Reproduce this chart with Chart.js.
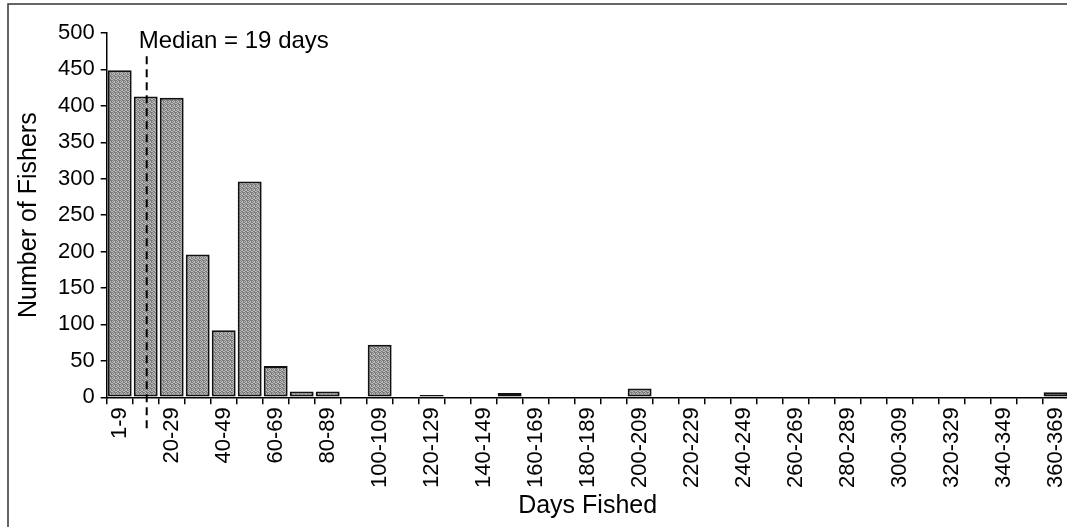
<!DOCTYPE html>
<html>
<head>
<meta charset="utf-8">
<script src="https://cdn.jsdelivr.net/npm/chart.js@4.4.1/dist/chart.umd.min.js"></script>
<style>
  html, body { margin: 0; padding: 0; background: #fff; overflow: hidden; }
  #wrap { position: absolute; left: 0; top: 0; width: 1085px; height: 527px; }
</style>
</head>
<body>
<div id="wrap"><canvas id="chart" width="1085" height="527"></canvas></div>
<script>
// Day ranges (x categories)
const dayRanges = [
  '1-9', '10-19', '20-29', '30-39', '40-49', '50-59', '60-69', '70-79', '80-89', '90-99',
  '100-109', '110-119', '120-129', '130-139', '140-149', '150-159', '160-169', '170-179',
  '180-189', '190-199', '200-209', '210-219', '220-229', '230-239', '240-249', '250-259',
  '260-269', '270-279', '280-289', '290-299', '300-309', '310-319', '320-329', '330-339',
  '340-349', '350-359', '360-369'
];

// Number of fishers per range
const fishers = [
  449, 413, 411, 196, 92, 296, 43, 8, 8, 0,
  72, 0, 3, 1, 1, 6, 1, 1,
  1, 1, 12, 0, 0, 0, 0, 0,
  0, 1, 1, 0, 1, 1, 0, 1,
  0, 0, 7
];

const yTicks = [0, 50, 100, 150, 200, 250, 300, 350, 400, 450, 500];

const medianIndex = 1;      // the 10-19 class holds the median
const medianText = 'Median = 19 days';
const medianTop = 468;      // where the dashed line starts, in fishers

const FONT = 'Liberation Sans, Arial, sans-serif';

// stippled grey fill, like the scanned bars
function stipple() {
  const c = document.createElement('canvas');
  c.width = 4; c.height = 4;
  const g = c.getContext('2d');
  g.fillStyle = '#bcbcbc';
  g.fillRect(0, 0, 4, 4);
  g.fillStyle = '#7c7c7c';
  [[0,0],[2,0],[1,1],[3,2],[0,2],[2,3],[1,3],[3,1],[3,0]].forEach(function (p) {
    g.fillRect(p[0], p[1], 1, 1);
  });
  return g.createPattern(c, 'repeat');
}

const medianPlugin = {
  id: 'median',
  beforeDraw: function (chart) {
    const ctx = chart.ctx;
    ctx.save();
    ctx.strokeStyle = '#333';
    ctx.lineWidth = 1.5;
    ctx.beginPath();
    ctx.moveTo(8, 600);
    ctx.lineTo(8, 4);
    ctx.lineTo(1200, 4);
    ctx.stroke();
    ctx.restore();
  },
  afterDatasetsDraw: function (chart) {
    const ctx = chart.ctx;
    const x = chart.scales.x.getPixelForValue(medianIndex) + 1;
    const yTop = chart.scales.y.getPixelForValue(medianTop);
    const yBottom = chart.chartArea.bottom + 32;
    ctx.save();
    ctx.strokeStyle = '#000';
    ctx.lineWidth = 2;
    ctx.setLineDash([8, 5]);
    ctx.beginPath();
    ctx.moveTo(x, yTop);
    ctx.lineTo(x, yBottom);
    ctx.stroke();
    ctx.setLineDash([]);
    ctx.fillStyle = '#000';
    ctx.font = '24px ' + FONT;
    ctx.textBaseline = 'alphabetic';
    ctx.textAlign = 'left';
    ctx.fillText(medianText, x - 8, chart.chartArea.top + 15);
    ctx.restore();
  }
};

const ctx = document.getElementById('chart');
new Chart(ctx, {
  type: 'bar',
  data: {
    labels: dayRanges,
    datasets: [{
      data: fishers,
      backgroundColor: stipple(),
      borderColor: '#111',
      borderWidth: 2,
      borderSkipped: false,
      barPercentage: 0.92,
      categoryPercentage: 1.0
    }]
  },
  options: {
    responsive: false,
    devicePixelRatio: 1,
    animation: false,
    layout: { padding: { left: 14, top: 33, right: 3, bottom: 6 } },
    plugins: { legend: { display: false }, tooltip: { enabled: false } },
    scales: {
      x: {
        offset: true,
        grid: { offset: true, drawOnChartArea: false, drawTicks: true, tickLength: 7, color: '#000', lineWidth: 1.5 },
        border: { display: true, color: '#000', width: 1.5 },
        ticks: {
          autoSkip: false,
          maxRotation: 90,
          minRotation: 90,
          padding: 3,
          color: '#000',
          font: { family: FONT, size: 22 },
          callback: function (v, i) { return i % 2 === 0 ? dayRanges[i] : ''; }
        },
        title: {
          display: true,
          text: 'Days Fished',
          color: '#000',
          font: { family: FONT, size: 25 },
          padding: { top: 0, bottom: 0 }
        }
      },
      y: {
        min: yTicks[0],
        max: yTicks[yTicks.length - 1],
        afterBuildTicks: function (axis) { axis.ticks = yTicks.map(function (v) { return { value: v }; }); },
        grid: { drawOnChartArea: false, drawTicks: true, tickLength: 6, color: '#000', lineWidth: 1.5 },
        border: { display: true, color: '#000', width: 1.5 },
        ticks: {
          padding: 6,
          color: '#000',
          font: { family: FONT, size: 22 }
        },
        title: {
          display: true,
          text: 'Number of Fishers',
          color: '#000',
          font: { family: FONT, size: 25 },
          padding: { top: 0, bottom: 8 }
        }
      }
    }
  },
  plugins: [medianPlugin]
});
</script>
</body>
</html>
